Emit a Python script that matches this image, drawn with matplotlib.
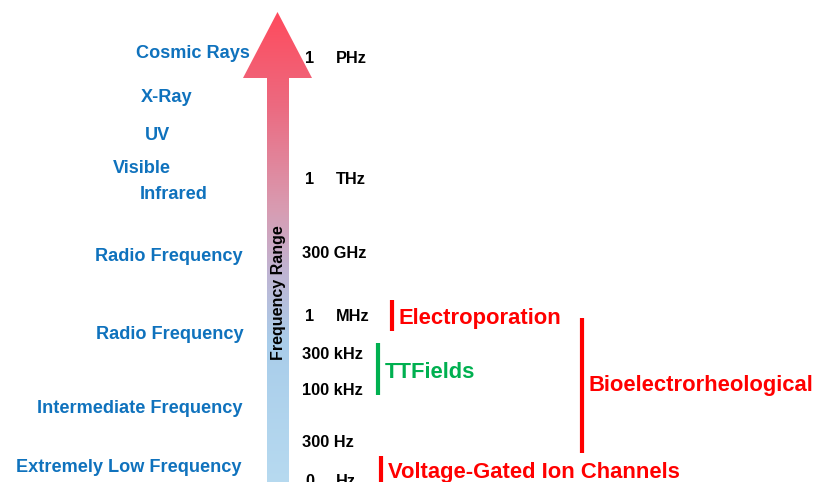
import numpy as np
import matplotlib.pyplot as plt
from matplotlib.patches import Polygon
from matplotlib.colors import LinearSegmentedColormap

# spectrum labels (left, blue)
band_names = ["Cosmic Rays", "X-Ray", "UV", "Visible", "Infrared",
              "Radio Frequency", "Radio Frequency", "Intermediate Frequency",
              "Extremely Low Frequency"]
band_x = [136, 141, 145, 113, 140, 95, 96, 37, 16]
band_y = [58, 102, 140, 173, 199, 261, 339, 413, 472]

# frequency values (black)
freq_num = ["1", "1", "300", "1", "300", "100", "300", "0"]
freq_unit = ["PHz", "THz", "GHz", "MHz", "kHz", "kHz", "Hz", "Hz"]
freq_y = [63, 184, 258, 321, 359, 395, 447, 486]

# application brackets
apps = ["Electroporation", "TTFields", "Bioelectrorheological", "Voltage-Gated Ion Channels"]
app_colors = ["#ff0000", "#00b050", "#ff0000", "#ff0000"]
app_line_x = [392, 378, 582, 381]
app_top = [300, 343, 318, 456]
app_bottom = [331, 395, 453, 490]
app_text_y = [324, 378, 391, 478]

blue = "#0f72bd"
font = "Liberation Sans"

fig = plt.figure(figsize=(8.16, 4.82), dpi=100)
ax = fig.add_axes([0, 0, 1, 1])
ax.set_xlim(0, 816)
ax.set_ylim(482, 0)
ax.axis("off")

# gradient arrow
cmap = LinearSegmentedColormap.from_list(
    "freq", [(0.0, "#ff4a5c"), (0.2, "#ec6a80"), (0.42, "#d89cb2"),
             (0.55, "#c0b4d2"), (0.7, "#a9cdea"), (1.0, "#b7daf0")])
grad = np.linspace(0, 1, 256).reshape(-1, 1)
im = ax.imshow(grad, cmap=cmap, extent=[240, 316, 485, 10], aspect="auto",
               interpolation="bilinear", zorder=1)
arrow = Polygon([(267, 485), (267, 78), (243, 78), (277.5, 12), (312, 78),
                 (289, 78), (289, 485)], closed=True, facecolor="none",
                edgecolor="none")
ax.add_patch(arrow)
im.set_clip_path(arrow)

ax.text(279, 293, "Frequency Range", rotation=90, ha="center", va="center",
        fontsize=11.5, fontweight="bold", family=font, color="black", zorder=3)

for name, x, y in zip(band_names, band_x, band_y):
    ax.text(x, y, name, ha="left", va="baseline", fontsize=13.1,
            fontweight="bold", family=font, color=blue)

for num, unit, y in zip(freq_num, freq_unit, freq_y):
    if len(num) == 1:
        ax.text(305, y, num, ha="left", va="baseline", fontsize=11.8,
                fontweight="bold", family=font, color="black")
        ax.text(336, y, unit, ha="left", va="baseline", fontsize=11.8,
                fontweight="bold", family=font, color="black")
    else:
        ax.text(302, y, num + " " + unit, ha="left", va="baseline", fontsize=11.8,
                fontweight="bold", family=font, color="black")

for name, c, x, y0, y1, ty in zip(apps, app_colors, app_line_x, app_top,
                                  app_bottom, app_text_y):
    ax.plot([x, x], [y0, y1], color=c, lw=3, solid_capstyle="butt")
    ax.text(x + 7, ty, name, ha="left", va="baseline", fontsize=15.8,
            fontweight="bold", family=font, color=c)

fig.savefig("out.png", dpi=100)
